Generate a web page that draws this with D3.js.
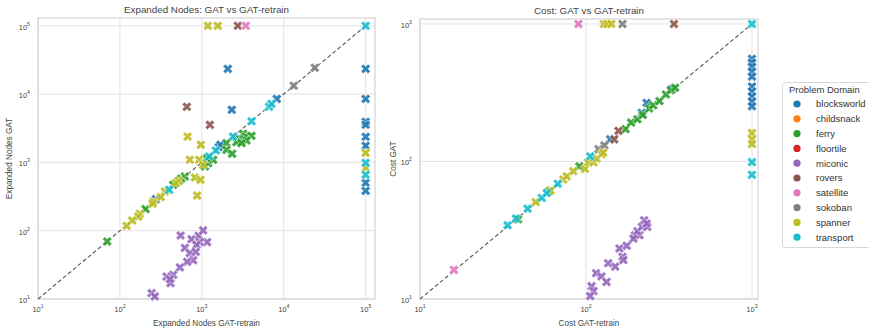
<!DOCTYPE html>
<html><head><meta charset="utf-8">
<script src="https://cdn.jsdelivr.net/npm/d3@7"></script>
<style>
body{margin:0;background:#fff;}
text{font-family:"Liberation Sans",Arial,sans-serif;}
</style></head>
<body><svg id="c" width="869" height="331"></svg>
<script>
const domains = ["blocksworld","childsnack","ferry","floortile","miconic","rovers","satellite","sokoban","spanner","transport"];
const palette = ["#1f77b4","#ff7f0e","#2ca02c","#d62728","#9467bd","#8c564b","#e377c2","#7f7f7f","#bcbd22","#17becf"];
const tickExps = [1,2,3,4,5];
const costTickExps = [1,2,3];

// [domain, GAT-retrain, GAT]
const expandedNodes = [
 ["blocksworld",2075,23400],["blocksworld",8220,8530],["blocksworld",2320,5890],["blocksworld",1610,1675],["blocksworld",1690,1810],["blocksworld",275,290],
 ["blocksworld",1e5,23400],["blocksworld",1e5,8500],["blocksworld",1e5,3930],["blocksworld",1e5,3560],["blocksworld",1e5,2370],["blocksworld",1e5,1750],["blocksworld",1e5,503],["blocksworld",1e5,383],
 ["ferry",70,69.5],["ferry",206,207],["ferry",447,470],["ferry",621,622],["ferry",560,580],["ferry",520,540],["ferry",1089,871],["ferry",1195,977],["ferry",1375,1092],["ferry",1150,1150],
 ["ferry",2000,1918],["ferry",2000,1528],["ferry",2345,1337],["ferry",3190,2625],["ferry",3410,2395],["ferry",4040,2450],["ferry",2905,2190],["ferry",3510,2094],["ferry",2650,1985],["ferry",3050,1918],
 ["miconic",550,85],["miconic",748,75],["miconic",918,84],["miconic",1037,101],["miconic",1161,68],["miconic",946,68],["miconic",861,62],["miconic",621,56],["miconic",714,47],["miconic",845,49],
 ["miconic",783,37],["miconic",662,35],["miconic",540,29],["miconic",447,22.6],["miconic",371,21.3],["miconic",415,17.1],["miconic",408,19.5],["miconic",244,12.2],["miconic",267,10.9],
 ["rovers",656,6520],["rovers",1253,3550],["rovers",2754,1e5],
 ["satellite",3440,1e5],
 ["sokoban",13250,13250],["sokoban",23900,24300],
 ["spanner",1184,1e5],["spanner",1567,1e5],["spanner",670,2390],["spanner",973,1810],["spanner",714,1092],["spanner",927,1092],["spanner",1037,923],["spanner",822,601],["spanner",964,556],["spanner",877,327],
 ["spanner",525,538],["spanner",482,498],["spanner",354,375],["spanner",316,310],["spanner",255,268],["spanner",251,248],["spanner",175,177],["spanner",167,161],["spanner",141,141],["spanner",121,118],
 ["spanner",1e5,1380],["spanner",1e5,835],
 ["transport",1e5,1e5],["transport",4040,4000],["transport",2410,2390],["transport",1483,1494],["transport",1228,1220],["transport",6600,6520],["transport",7080,7200],["transport",399,397],["transport",1e5,986],["transport",1e5,660]
];

const planCost = [
 ["blocksworld",140,145],["blocksworld",217,226],["blocksworld",232,267],["blocksworld",330,335],
 ["blocksworld",1000,558],["blocksworld",1000,523],["blocksworld",1000,489],["blocksworld",1000,450],["blocksworld",1000,414],["blocksworld",1000,351],["blocksworld",1000,323],["blocksworld",1000,297],["blocksworld",1000,273],["blocksworld",1000,252],
 ["ferry",39,38],["ferry",60,61],["ferry",91.2,92.3],["ferry",173,172],["ferry",187,192],["ferry",204,203],["ferry",220,218],["ferry",240,243],["ferry",254,256],["ferry",277,275],["ferry",303,307],["ferry",324,330],["ferry",344,344],
 ["miconic",108,12.4],["miconic",111,11.4],["miconic",106,10.5],["miconic",115,15.4],["miconic",124,14.6],["miconic",133,13.3],["miconic",136,18.2],["miconic",150,17.2],["miconic",159,23.3],["miconic",166,20.3],
 ["miconic",176,24.4],["miconic",168,19.2],["miconic",197,29.1],["miconic",210,29.1],["miconic",204,31.1],["miconic",217,33.5],["miconic",234,33.5],["miconic",224,37.4],["miconic",193,27.5],["miconic",232,35.4],
 ["rovers",148,145],["rovers",157,167],["rovers",339,1000],
 ["satellite",16,16.3],["satellite",90,1000],
 ["sokoban",119,123],["sokoban",129,131],["sokoban",166,1000],
 ["spanner",49.8,50.7],["spanner",61.2,61.5],["spanner",73,74],["spanner",76.5,78],["spanner",83.8,85],["spanner",98.6,88.3],["spanner",103,98.6],["spanner",111,98.6],["spanner",116,105],["spanner",124,113],["spanner",127,116],
 ["spanner",128,1000],["spanner",134,1000],["spanner",142,1000],["spanner",1000,161],["spanner",1000,145],["spanner",1000,134],
 ["transport",33.7,34.4],["transport",37.8,38.5],["transport",44.5,45.4],["transport",54.1,54.4],["transport",58,58.9],["transport",67.6,68.9],["transport",106,109],["transport",1000,1000],["transport",1000,99],["transport",1000,80]
];

const color = d3.scaleOrdinal().domain(domains).range(palette);
const svg = d3.select("#c");

function xMarker(r){
  const w = r*0.34;
  const pts = [[-w,-r],[w,-r],[w,-w],[r,-w],[r,w],[w,w],[w,r],[-w,r],[-w,w],[-r,w],[-r,-w],[-w,-w]];
  const c = Math.SQRT1_2;
  return "M" + pts.map(([x,y]) => [(x-y)*c,(x+y)*c].map(v=>v.toFixed(2)).join(",")).join("L") + "Z";
}
const markerPath = xMarker(5.1);

function panel(cfg){
  const x = d3.scaleLog().domain([10, cfg.max]).range([cfg.x0, cfg.x1]);
  const y = d3.scaleLog().domain([10, cfg.max]).range([cfg.y1, cfg.y0]);
  const g = svg.append("g");
  const ticks = cfg.exps.map(e => Math.pow(10,e));
  g.selectAll(".gx").data(ticks).join("line")
    .attr("x1",d=>x(d)).attr("x2",d=>x(d)).attr("y1",cfg.y0).attr("y2",cfg.y1)
    .attr("stroke","#e3e3e3").attr("stroke-width",1);
  g.selectAll(".gy").data(ticks).join("line")
    .attr("y1",d=>y(d)).attr("y2",d=>y(d)).attr("x1",cfg.x0).attr("x2",cfg.x1)
    .attr("stroke","#e3e3e3").attr("stroke-width",1);
  g.append("rect").attr("x",cfg.x0).attr("y",cfg.y0).attr("width",cfg.x1-cfg.x0).attr("height",cfg.y1-cfg.y0)
    .attr("fill","none").attr("stroke","#d4d4d4").attr("stroke-width",1.2);
  const xl = g.selectAll(".xl").data(cfg.exps).join("text")
    .attr("x",d=>x(Math.pow(10,d))).attr("y",cfg.y1+13).attr("text-anchor","middle")
    .attr("font-size",7.5).attr("fill","#444");
  xl.append("tspan").text("10");
  xl.append("tspan").attr("dy",-4).attr("font-size",5.2).text(d=>d);
  const yl = g.selectAll(".yl").data(cfg.exps).join("text")
    .attr("x",cfg.x0-8).attr("y",d=>y(Math.pow(10,d))+4).attr("text-anchor","end")
    .attr("font-size",7.5).attr("fill","#444");
  yl.append("tspan").text("10");
  yl.append("tspan").attr("dy",-4).attr("font-size",5.2).text(d=>d);
  g.append("text").attr("x",(cfg.x0+cfg.x1)/2).attr("y",cfg.y1+27).attr("text-anchor","middle")
    .attr("font-size",8.2).attr("fill","#444").text(cfg.xlabel);
  g.append("text").attr("transform",`translate(${cfg.ylx},${(cfg.y0+cfg.y1)/2}) rotate(-90)`).attr("text-anchor","middle")
    .attr("font-size",8.2).attr("fill","#444").text(cfg.ylabel);
  g.append("text").attr("x",(cfg.x0+cfg.x1)/2).attr("y",cfg.y0-5).attr("text-anchor","middle")
    .attr("font-size",9.8).attr("fill","#444").text(cfg.title);
  g.append("line").attr("x1",x(10)).attr("y1",y(10)).attr("x2",x(cfg.diag)).attr("y2",y(cfg.diag))
    .attr("stroke","#555").attr("stroke-width",1.1).attr("stroke-dasharray","4,2.5");
  g.selectAll(".pt").data(cfg.data).join("path")
    .attr("d",markerPath)
    .attr("transform",d=>`translate(${x(d[1])},${y(d[2])})`)
    .attr("fill",d=>color(d[0])).attr("stroke","#fff").attr("stroke-width",0.6).attr("opacity",0.9);
}

panel({x0:38,x1:375,y0:18,y1:299,max:1.3e5,diag:1e5,exps:tickExps,data:expandedNodes,
  title:"Expanded Nodes: GAT vs GAT-retrain",xlabel:"Expanded Nodes GAT-retrain",ylabel:"Expanded Nodes GAT",ylx:12});
panel({x0:420,x1:758,y0:19,y1:299,max:1087,diag:1000,exps:costTickExps,data:planCost,
  title:"Cost: GAT vs GAT-retrain",xlabel:"Cost GAT-retrain",ylabel:"Cost GAT",ylx:396});

const lg = svg.append("g");
lg.append("rect").attr("x",782.5).attr("y",82.5).attr("width",92).attr("height",165).attr("rx",3)
  .attr("fill","#fff").attr("stroke","#d8d8d8");
lg.append("text").attr("x",789).attr("y",93).attr("font-size",9.5).attr("fill","#333").text("Problem Domain");
const items = lg.selectAll(".it").data(domains).join("g")
  .attr("transform",(d,i)=>`translate(0,${104+i*14.8})`);
items.append("circle").attr("cx",797).attr("cy",0).attr("r",3.6).attr("fill",d=>color(d));
items.append("text").attr("x",816).attr("y",3.3).attr("font-size",9.5).attr("fill","#333").text(d=>d);
</script></body></html>
